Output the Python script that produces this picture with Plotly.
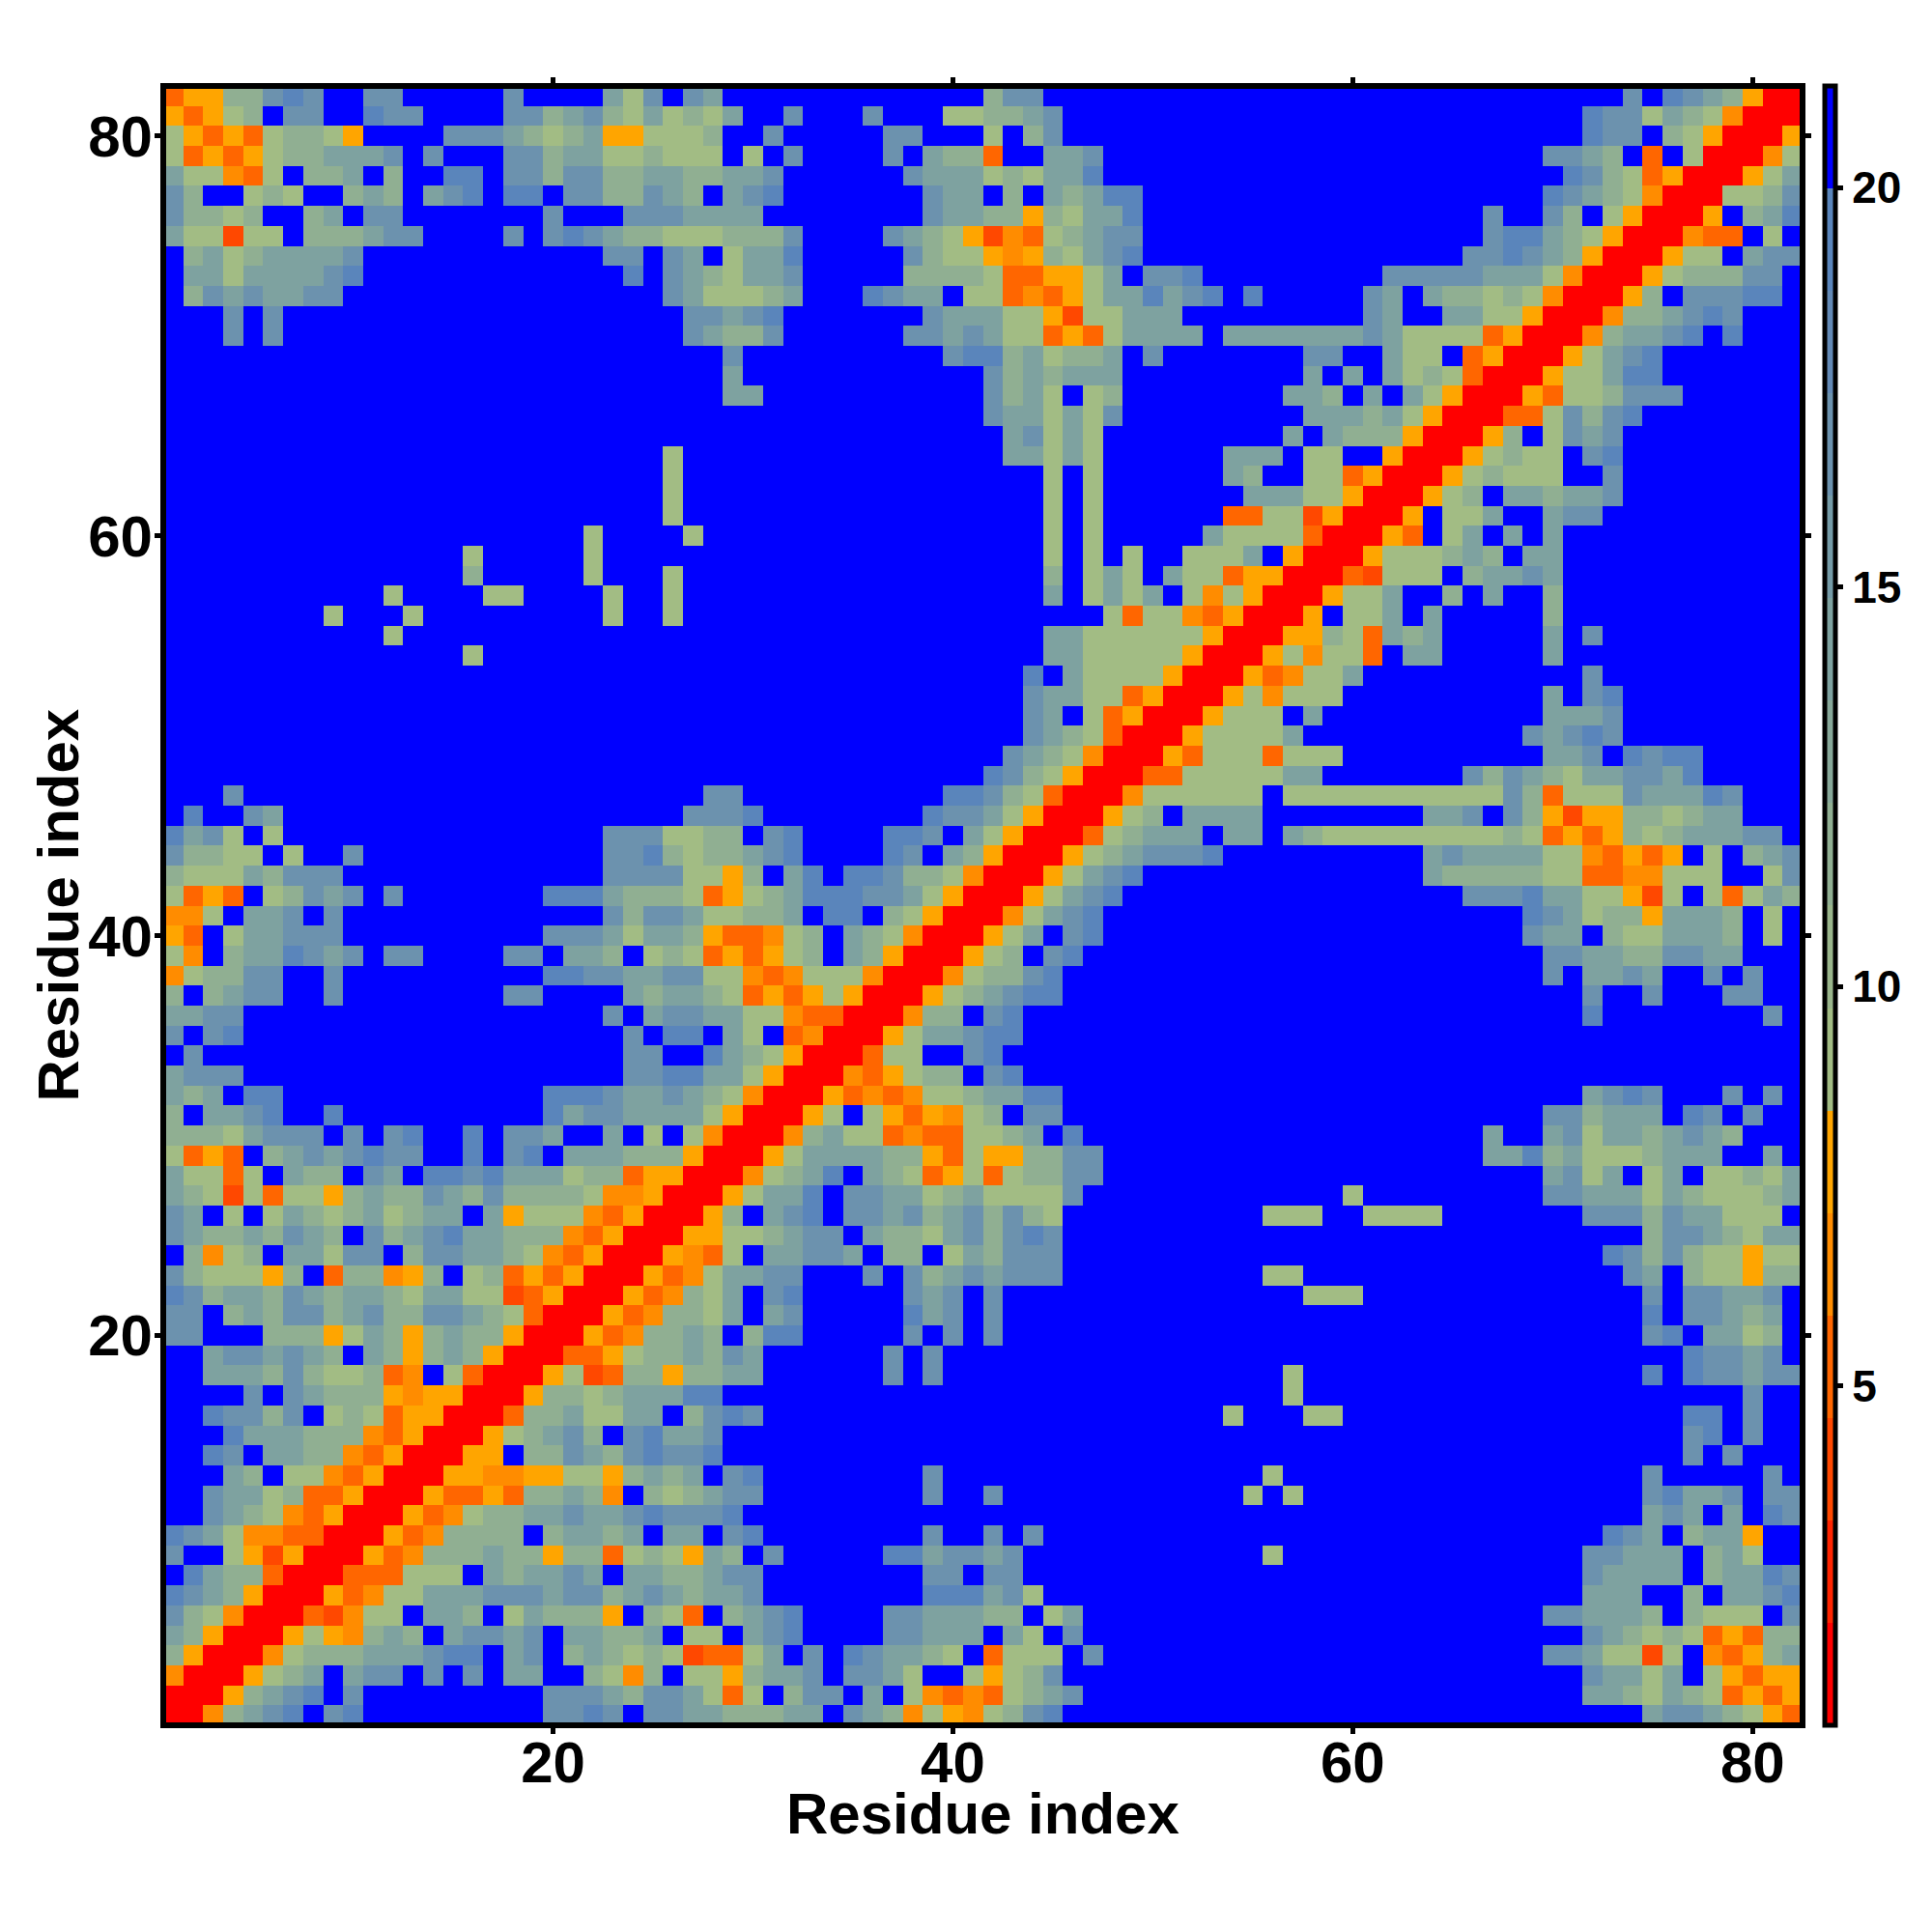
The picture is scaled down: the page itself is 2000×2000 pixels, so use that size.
import re
import plotly.graph_objects as go

# Cell codes: a number stands for that many blue cells; letters are distance bins.
# Each list runs from residue 82 (top row) down to residue 1.
rows_left = """UWWccgig2gg5g4eag1g
WUWac1gg2igg4ggcegcaeac
aWUWUaccaW4gggecaceWWaaa
aUWUWacceeeg1g3ggceeaacaa
eaaVUa1cce1c2ii1ggcggcceec
gc2aca2cec1egi1ii1ggccgec
gccac2ce1gg7g3ggge
eaaTaa1cccegg4g1gigeccaa
1ceaceeeeg12gg1ge
1eeaeeeegi13i1ge
1cgegeegg16ge
3g1g20g
3g1g20g
27
27
27
27
27
25a1
25a1
25a1
25a1
21a4a
15a5a5
15c5a3a1
11a4aa4a2a1
8a3a9a2a1
11a15
15a11
27
27
27
27
27
27
3g23
1i2ge20g
iega1a16gggaa
gccaa1a2g12ggica
caaaecggg13gggga
aUWU1acgeg1g7iiieccca
VVa1eeg1g13gcgge
WU1aeeggg10gggeaeec
aV1ceeigeg1gg4gg1eec1aca
Vaccgg2g10iiggeegg
c1cegg2g8gg4ecee
eegg18g1egg
g1gi19g1ii
1g21gg2
eggg19ggii
ece1ii13iiigeege
c1eegi2i10ieggeeee
cccaeggg1g1gi2i1gge2e1a1a
aUWU1cegegigg2i1gi1eeecccW
eaaUa1ecc1ge1iigieeeaccUWWR
ecaTaUaaWceccgecgccccaVVWRR
ge1a1aecaceacee1eWaaaVUWRRR
geccecgec1gcegieecccVUWRRRW
1cVac1eeagg1cggeecaVUWRRRWV
gcaaaWc1UccVWc1acUWUWRRRWUV
igceecgeceecaeeaaTUWRRRWUVc
gg1cecggcegccggecaURRRWUVcc
gg3cccWaecWceccWRRRWUVcce
2eggegec1ecWcecWRRRUUWacce
2eeecgcaacUV1aURRRWaTUccWc
4g1gecccWVWWRRRWccaceeei
2iggcg1acaUWWRRRUcceaaee1c
3ieeecccVUWRRRWacegc1giee
2ig1eeccVUWRRRWW1ccgecgigg
3ec1aaVUWRRRWWVVWWaaWcece
2geeacUUWRRRWUUWUccecV1cac
2gecaVUWRRRWUVacceegeegigg
igeaVVUURRRWUVcccc1ceece1ee
g2aWTWRRRWUVccceccWccUacaW
1ieccURRRUUUaaa1eceege1eecc
igecWRRRWUVaaeeegggeggcegec
gcaVRRRUTVaa1eec1aecccW1caU
ecWRRRWaWVcec1eggeg1eecce1a
cWRRRVaccceeegii1eg1cecacaT
VRRRWace1egg1g1g1ee2caVc1a
RRRWcegi1g9gggecgge
RRVcegi1gi9ggig1gge""".split()

rows_mid = """e13cgg11
ae2g3g3aacceg10
c2g5gg3a1cg10
a1a1g4g1eccU2eeg8
ceeg6geeeacaeei8
1egi7gee1c1eceii6
eee8geeccWcaeei6
acccg4gecaWTVUacegg6
1aeei5gcaaWVWcaegi6
caeeg5ccccaUUWWae1ggi3
aaace3igee1aaUVUWaeeiegi1i
gegi7geeeaaWTaaeee4
eccg6ggegeaaUWUaeeee1ee
1g10giiceacce1g5
1e12gceceee7
1ee11gcea1ac7
14geeaeag7
15egaea8
15eeaea6ee
17a1a6ec
17a1a7e
17a1a6UU
17a1a5eaa
17a1a1a2aaae
17c1aea1eaaUW
17e1aeae1aVaW
20aUaaVUWR
17eeaaaaaaWRR
17eeaaaaaWRRR
16i1eaaaaWRRRW
16geeaaUWRRRWa
16ge1aUWRRRWaa
16gecaURRRWaaa
15gecaVRRRWUaaa
14igcaWRRRUUaaaa
gg10iigcaURRRVaaaaaa
ggi8iggeaWRRRWac1eeee
cc1gi4iig1eaWRRRUaceee1ee
ccegi4ig1ecWRRRWacegggi2
aWc1ei1iigccaVRRRWaegi6
UWaceiiiggeaWRRRWaegi7
aacce1ii1caWRRRVaegi8
WUUVac1ecaVRRRWae1gi8
UWUWac1ecWRRRWac1gi9
aaVUVaaaVRRRVaccgi10
caUWUWaWRRRWacegii10
eeaaVUURRRVcc1gi12
1ea1UVRRRWaeegii12
iecaWRRRUaa2gi13
eeaWRRRVUWacc1gi12
caVRRRWUVUVaaceeii10
aWRRRWa1aWUWVac1gg10
VRRRVceaaUVUUaace1i9
RRRWaeeeeccWUaWWccgg8
RRVacei1ecaUWaUaccgg8
RWaeei1ggeeaceaaaag9
Wc1egi1ggegcegcgca10
Waacegg1eccaegcgig10
Ua1eegge1cc1aecggg10
aeegg3g1gcegeggg10
ae1gi5geg1g13
ae1eg5ieg1g13
c1cii5g1g1g13
cge6g1g16
cee6g1g16
i27
gig23a1
g27
i27
1gi8g16
egg8g2g12a
gi26
1gi8g2g1g11
ec1g5iieggeg12
egg8gg1gg12
eeg8iiiega11
1cegi4ggeeecc1ae9
a1egi4ggeee1ea1g9
UUae1g1igeeca1Uaaa1g8
aWceeg1ggea2aWacg10
aUa1cgg1e1aVUVUaceg9
ecccee1gecVaWVacgi10""".split()

rows_right = """18g1igecWRR
16iggaecaVRRR
16igg1caWRRRW
14ggec1U1aRRRVa
15igcaUWRRRWae
14igecaVRRRaacg
11g2gc1aWRRRW1cei
11giiecaWRRRVUU1a1
10ggigecWRRRWaa1egg
6gggggeeeaVRRRWacccgg1
5ge1eccacaVRRRWc1gggii1
5ge2eeaaWRRRVccegig3
eeeeegeaaaaUWRRRVceegi1i3
2gg2eaa1UWRRRWaegi7
2e1e1eacaURRRWaaeii7
1eec1e1eaWRRRWUaacggg6
2eeeceaWRRRUUagcgi8
1e1ecccWRRRWc1ageg9
e1aa2WRRRWacaa1gi9
2aaUWRRRWacaaa2g9
eeaaWRRRWac1eeceeg9
aaTWRRRW1aae2egg10
aaURRRWU1ae1e1e12
1WRRRWaaacec1ee12
WRRRUTaaa1ceege12
RRRWaae2c1e2c12
RRW1aae1e5c12
RWWcaUece5e1g10
WaVaaU1ee5e12
UVaae11g10
Vaaa10e1gi9
a1e11eeeg9
ae11gegig9
Uaaa10eeg1igii5
aee7gcgecaeeggei5
1aaaaaaaaaaagcUaaageeeig3
8eeg1gcWTWWccacee3
1ecaaaaaaaaacaUWUWcaceeegg1
8egeeeeaaVUWUW1a1ceg
8ecccccaaUUVVaaa2ag
10gggieeaaWTa1aUaec
13igeaccWeeec1a1
13gee1caaeeec1a1
14ggeeccggee3
14g1eege2g1g2
16g2g3gg2
16i8g1
27
27
27
16egig3g1g1
14ggceee1ig1g2
11e2egaeecegec3
11eeiceaaaceee2e1
14egae1ae1aacae
4a9ggeeeaecaaace
aaa2aaaa7gggcgeeaaa1
19cggecaee
17igcgcaaWaa
aa16ge1caaWcc
2aaa14g1ggeeg1
19i1ggece1
19gi1eeac1
21iggeg1
1a17i1iggegg
1a22g2
2aa17ii1g2
21gi1g2
21g1g3
a18g5g1
1a17gieeg1gg
19ege1e1ig
17ige1ceeW2
a15ggeee1cea2
16geeee1ceeig
16eee2c1eegi
14ggeeec1caaa1g
16gecacaUWUcc
14ggeaaTa1VUWce
16geeae1aWUWW
16eecaecaUWUW
19eggecaWU""".split()

code_values = {"R": 1.39, "T": 3.96, "U": 5.24, "V": 6.52, "W": 7.8,
               "a": 9.09, "c": 11.65, "e": 14.2, "g": 16.8, "i": 19.35, ".": 20.63}
bin_colors = ["#ff0000", "#ff2400", "#ff4800", "#ff6600", "#ff8c00", "#ffa500",
              "#a2bc84", "#99b58b", "#90af92", "#87a899", "#7ea2a0",
              "#759ba7", "#6c92ae", "#6389b5", "#5a85bb", "#0000ff"]
z_low, z_high = 0.75, 21.27
residues = list(range(1, 83))
axis_ticks = [20, 40, 60, 80]
bar_ticks = [5, 10, 15, 20]
axis_title = "Residue index"


def expand(text, width):
    text = re.sub(r"\d+", lambda m: "." * int(m.group()), text)
    if len(text) != width:
        raise ValueError(f"bad width {len(text)} != {width}: {text}")
    return text


z = []
for left, mid, right in zip(rows_left, rows_mid, rows_right):
    row = expand(left, 27) + expand(mid, 28) + expand(right, 27)
    z.append([code_values[c] for c in row])
z.reverse()

n = len(bin_colors)
scale = []
for k, col in enumerate(bin_colors):
    scale += [[k / n, col], [(k + 1) / n, col]]

FONT = "Liberation Sans"
title_font = dict(family=FONT, size=60, color="black", weight=700)
fig = go.Figure(go.Heatmap(
    x=residues, y=residues, z=z, zmin=z_low, zmax=z_high, colorscale=scale,
    colorbar=dict(
        x=1.0138, xanchor="left", y=0, yanchor="bottom", len=1, lenmode="fraction",
        thickness=11, thicknessmode="pixels", xpad=0, ypad=0,
        outlinecolor="black", outlinewidth=5, borderwidth=0,
        tickvals=bar_ticks, ticktext=[str(v) for v in bar_ticks],
        ticks="outside", ticklen=6, tickwidth=5, tickcolor="black",
        tickfont=dict(family=FONT, size=46, color="black", weight=700),
    ),
))
axis_common = dict(
    range=[0.5, 82.5], tickvals=axis_ticks, ticks="outside", ticklen=8, tickwidth=5,
    tickcolor="black", showgrid=False, zeroline=False, showline=False,
    mirror="ticks",
    tickfont=dict(family=FONT, size=60, color="black", weight=700),
)
fig.update_xaxes(**axis_common, ticklabelstandoff=-22)
fig.update_yaxes(**axis_common, ticklabelstandoff=-10)
fig.update_layout(
    width=2000, height=2000, autosize=False, paper_bgcolor="white", plot_bgcolor="white",
    margin=dict(l=169, r=134, t=89, b=214, pad=0),
    shapes=[dict(type="rect", xref="paper", yref="paper", x0=0, x1=1, y0=0, y1=1,
                 line=dict(color="black", width=6), layer="above")],
    annotations=[
        dict(text=axis_title, xref="paper", yref="paper", x=0.5, y=-0.0542, showarrow=False,
             xanchor="center", yanchor="middle", font=title_font),
        dict(text=axis_title, xref="paper", yref="paper", x=-0.0642, y=0.5, showarrow=False,
             xanchor="center", yanchor="middle", textangle=-90, font=title_font),
    ],
)
fig.write_html("out.html", post_script="document.body.style.margin='0';",
               config={"displayModeBar": False})
